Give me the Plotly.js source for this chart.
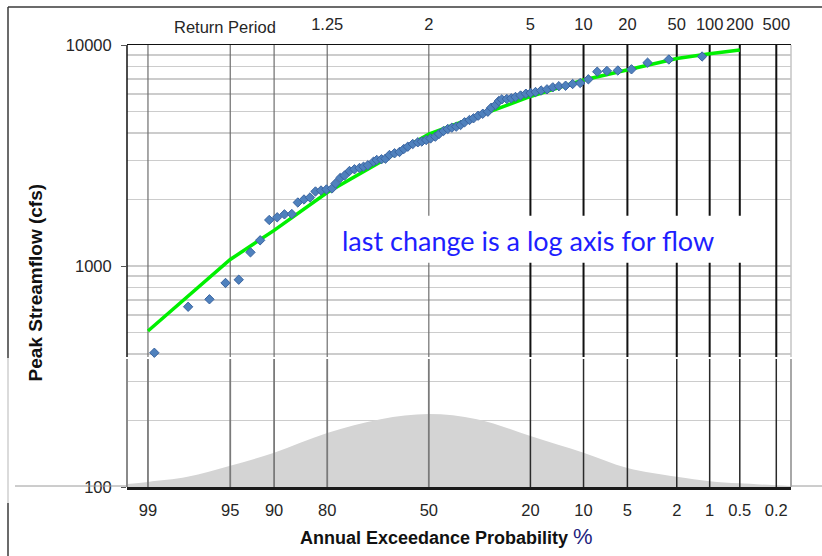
<!DOCTYPE html>
<html>
<head>
<meta charset="utf-8">
<script src="https://cdn.plot.ly/plotly-3.0.1.min.js"></script>
<style>
  html, body { margin: 0; padding: 0; background: #ffffff; }
  #chart { width: 822px; height: 556px; }
</style>
</head>
<body>
<div id="chart"></div>
<script>
// Ranked annual peaks: chance of exceedance (%) and peak streamflow (cfs)
const peakExceedPct = [98.85, 97.69, 96.54, 95.39, 94.23, 93.02, 91.88, 90.69, 89.54, 88.41,
  87.18, 86.11, 84.94, 83.75, 82.61, 81.41, 80.18, 78.87, 78.02, 76.85,
  75.74, 74.44, 73.10, 71.70, 70.57, 69.33, 67.65, 66.68, 65.25, 64.02,
  62.78, 61.18, 59.60, 58.20, 56.91, 55.29, 53.63, 52.31, 50.88, 49.44,
  47.85, 46.63, 45.15, 43.76, 42.43, 41.02, 39.63, 38.36, 36.81, 35.57,
  34.13, 32.74, 31.24, 30.26, 29.02, 28.10, 27.26, 25.91, 24.73, 23.64,
  22.36, 21.07, 19.97, 18.84, 17.62, 16.38, 15.22, 14.07, 12.86, 11.68,
  10.49, 9.32, 8.15, 7.01, 5.87, 4.66, 3.50, 2.34, 1.18];
const peakFlowCfs = [405, 654, 707, 838, 867, 1153, 1307, 1615, 1661, 1713,
  1719, 1938, 2000, 2042, 2174, 2196, 2220, 2243, 2362, 2502,
  2567, 2691, 2739, 2776, 2814, 2856, 2965, 3018, 3040, 3059,
  3179, 3236, 3280, 3384, 3466, 3565, 3629, 3659, 3717, 3776,
  3847, 3957, 4083, 4169, 4226, 4270, 4345, 4469, 4577, 4659,
  4787, 4887, 4991, 5203, 5351, 5579, 5679, 5698, 5739, 5817,
  5909, 6020, 6064, 6127, 6224, 6302, 6435, 6510, 6543, 6660,
  6731, 6995, 7573, 7629, 7668, 7762, 8316, 8598, 8871];

// Fitted frequency curve
const fitExceedPct = [99, 95, 90, 80, 50, 20, 10, 5, 2, 1, 0.5];
const fitFlowCfs   = [508, 1070, 1450, 2150, 3950, 5850, 6950, 7730, 8680, 9120, 9490];

// Probability axis (bottom) and return period axis (top)
const probTicks = [99, 95, 90, 80, 50, 20, 10, 5, 2, 1, 0.5, 0.2];
const minorProbTicks = [99, 95, 90, 80, 50];
const returnPeriods = [1.25, 2, 5, 10, 20, 50, 100, 200, 500];

// Bell-shaped density sketch along the probability axis (relative height)
const bellExceedPct = [99.38, 99, 97.72, 95, 90, 80, 65.5, 50, 34.5, 20, 10, 5, 2, 1, 0.5, 0.135];
const bellHeight    = [0.04, 0.07, 0.14, 0.29, 0.47, 0.74, 0.93, 1.0, 0.93, 0.70, 0.47, 0.26, 0.14, 0.08, 0.05, 0.015];

// Inverse standard normal CDF (Acklam)
function normInv(p) {
  const a = [-3.969683028665376e+01, 2.209460984245205e+02, -2.759285104469687e+02, 1.383577518672690e+02, -3.066479806614716e+01, 2.506628277459239e+00];
  const b = [-5.447609879822406e+01, 1.615858368580409e+02, -1.556989798598866e+02, 6.680131188771972e+01, -1.328068155288572e+01];
  const c = [-7.784894002430293e-03, -3.223964580411365e-01, -2.400758277161838e+00, -2.549671010229528e+00, 4.374664141464968e+00, 2.938163982698783e+00];
  const d = [7.784695709041462e-03, 3.224671290700398e-01, 2.445134137142996e+00, 3.754408661907416e+00];
  const pl = 0.02425, ph = 1 - pl;
  let q, r;
  if (p < pl) {
    q = Math.sqrt(-2 * Math.log(p));
    return (((((c[0]*q+c[1])*q+c[2])*q+c[3])*q+c[4])*q+c[5]) / ((((d[0]*q+d[1])*q+d[2])*q+d[3])*q+1);
  }
  if (p > ph) {
    q = Math.sqrt(-2 * Math.log(1 - p));
    return -(((((c[0]*q+c[1])*q+c[2])*q+c[3])*q+c[4])*q+c[5]) / ((((d[0]*q+d[1])*q+d[2])*q+d[3])*q+1);
  }
  q = p - 0.5; r = q * q;
  return (((((a[0]*r+a[1])*r+a[2])*r+a[3])*r+a[4])*r+a[5])*q / (((((b[0]*r+b[1])*r+b[2])*r+b[3])*r+b[4])*r+1);
}
// exceedance % -> standard normal variate (rarer events to the right)
const zOf = pct => normInv(1 - pct / 100);

const FONT = 'Liberation Sans, Arial, sans-serif';
const BOTTOM = 100, TOP = 10000;
const SPLIT_LOW = 379.6, SPLIT_HIGH = 387.5;   // break between lower panel and upper grid
const BELL_DECADES = 0.33;

function vLines(pcts, y0, y1) {
  const x = [], y = [];
  pcts.forEach(p => { const z = zOf(p); x.push(z, z, null); y.push(y0, y1, null); });
  return { x, y };
}
const thinUp = vLines(minorProbTicks, SPLIT_HIGH, TOP);
const thickUp = vLines(probTicks.filter(p => p < 50), SPLIT_HIGH, TOP);
const thinLow = vLines(minorProbTicks, BOTTOM, SPLIT_LOW);
const thickLow = vLines(probTicks.filter(p => p < 50), BOTTOM, SPLIT_LOW);

const bellX = bellExceedPct.map(zOf);
const bellY = bellHeight.map(h => BOTTOM * Math.pow(10, BELL_DECADES * h));

const line = (xy, color, width) => ({
  type: 'scatter', mode: 'lines', x: xy.x, y: xy.y, hoverinfo: 'skip', showlegend: false,
  line: { color, width }
});

const traces = [
  { type: 'scatter', mode: 'lines', x: [bellX[0], bellX[bellX.length - 1]], y: [BOTTOM, BOTTOM],
    line: { width: 0, color: 'rgba(0,0,0,0)' }, hoverinfo: 'skip', showlegend: false },
  { type: 'scatter', mode: 'lines', x: bellX, y: bellY, fill: 'tonexty', fillcolor: '#d4d4d4',
    line: { width: 0, shape: 'spline', color: '#d4d4d4' }, hoverinfo: 'skip', showlegend: false },
  line(thinLow, '#7a7a7a', 1.8),
  line(thickLow, '#2a2a2a', 1.5),
  line(thinUp, '#6e6e6e', 1.2),
  line(thickUp, '#111111', 2),
  { type: 'scatter', mode: 'lines', name: 'Fitted curve',
    x: fitExceedPct.map(zOf), y: fitFlowCfs,
    line: { color: '#00f000', width: 3.5 }, showlegend: false },
  { type: 'scatter', mode: 'markers', name: 'Annual peaks',
    x: peakExceedPct.map(zOf), y: peakFlowCfs,
    marker: { symbol: 'diamond', size: 7.2, color: '#4f81bd', line: { color: '#3a64a0', width: 1 } },
    showlegend: false },
  { type: 'scatter', mode: 'markers', x: [], y: [], xaxis: 'x2', showlegend: false, hoverinfo: 'skip' }
];

const minorFlow = [];
[100, 1000].forEach(dec => { for (let k = 2; k <= 9; k++) minorFlow.push(k * dec); });

// paper helpers for a 664 x 442 plot area at (127, 45)
const px = X => (X - 127) / 664;
const py = Y => (487 - Y) / 442;

const shapes = [
  // outer frame
  { type: 'line', xref: 'paper', yref: 'paper', x0: px(8), x1: px(822), y0: py(7), y1: py(7), line: { color: '#3a3a3a', width: 1.5 } },
  { type: 'line', xref: 'paper', yref: 'paper', x0: px(8), x1: px(8), y0: py(7), y1: py(358), line: { color: '#3a3a3a', width: 1.5 } },
  { type: 'line', xref: 'paper', yref: 'paper', x0: px(8), x1: px(8), y0: py(358), y1: py(503), line: { color: '#cfcfcf', width: 1.5 } },
  { type: 'line', xref: 'paper', yref: 'paper', x0: px(8), x1: px(8), y0: py(503), y1: py(556), line: { color: '#3a3a3a', width: 1.5 } },
  // baseline running past the plot
  { type: 'line', xref: 'paper', yref: 'paper', x0: px(15), x1: px(127), y0: py(486), y1: py(486), line: { color: '#9a9a9a', width: 1 } },
  { type: 'line', xref: 'paper', yref: 'paper', x0: px(791), x1: px(822), y0: py(486), y1: py(486), line: { color: '#9a9a9a', width: 1 } },
  // left axis line and right edge
  { type: 'line', xref: 'paper', yref: 'paper', x0: 0, x1: 0, y0: py(357), y1: 1, line: { color: '#111111', width: 1.5 } },
  { type: 'line', xref: 'paper', yref: 'paper', x0: 0, x1: 0, y0: 0, y1: py(359), line: { color: '#8a8a8a', width: 2 } },
  { type: 'line', xref: 'paper', yref: 'paper', x0: 1, x1: 1, y0: py(357), y1: 1, line: { color: '#c4c4c4', width: 1.5 } },
  { type: 'line', xref: 'paper', yref: 'paper', x0: 1, x1: 1, y0: 0, y1: py(359), line: { color: '#a8a8a8', width: 2 } },
  // note background
  { type: 'rect', xref: 'paper', yref: 'paper', x0: px(333), x1: px(770), y0: py(262.7), y1: py(215.7),
    fillcolor: '#ffffff', line: { width: 0 }, layer: 'above' }
];

const tickFont = { family: FONT, size: 16.5, color: '#262626' };

const layout = {
  width: 822, height: 556, autosize: false,
  margin: { l: 127, r: 31, t: 45, b: 69, pad: 0 },
  paper_bgcolor: '#ffffff', plot_bgcolor: '#ffffff',
  showlegend: false,
  xaxis: {
    range: [-2.5, 3.0], tickmode: 'array',
    tickvals: probTicks.map(zOf), ticktext: probTicks.map(String),
    showgrid: false, zeroline: false, ticks: '',
    showline: true, linecolor: '#1a1a1a', linewidth: 2.5,
    tickfont: tickFont, ticklabelstandoff: 7
  },
  xaxis2: {
    overlaying: 'x', side: 'top', anchor: 'y', range: [-2.5, 3.0], tickmode: 'array',
    tickvals: returnPeriods.map(T => zOf(100 / T)), ticktext: returnPeriods.map(String),
    showgrid: false, zeroline: false, ticks: '',
    showline: true, linecolor: '#111111', linewidth: 1.5,
    tickfont: tickFont, ticklabelstandoff: 7
  },
  yaxis: {
    type: 'log', range: [2, 4], tickmode: 'array',
    tickvals: [100, 1000, 10000], ticktext: ['100', '1000', '10000'],
    ticks: 'outside', ticklen: 5, tickcolor: '#555555', tickwidth: 1,
    showgrid: true, gridcolor: '#cccccc', gridwidth: 1.5,
    minor: { tickmode: 'array', tickvals: minorFlow, showgrid: true, gridcolor: '#cccccc', gridwidth: 1.5, ticks: '' },
    zeroline: false, showline: false,
    tickfont: tickFont, ticklabelstandoff: 6
  },
  shapes,
  annotations: [
    { xref: 'paper', yref: 'paper', x: px(225.3), y: py(27), xanchor: 'center', yanchor: 'middle',
      text: 'Return Period', showarrow: false, font: tickFont },
    { xref: 'paper', yref: 'paper', x: px(446), y: py(536), xanchor: 'center', yanchor: 'middle',
      text: '<b>Annual Exceedance Probability</b> <span style="font-size:22px;color:#1f1f80">%</span>',
      showarrow: false, font: { family: FONT, size: 18, color: '#111111' } },
    { xref: 'paper', yref: 'paper', x: px(35), y: py(283.4), xanchor: 'center', yanchor: 'middle',
      textangle: -90, text: '<b>Peak Streamflow (cfs)</b>', showarrow: false,
      font: { family: FONT, size: 19, color: '#111111' } },
    { xref: 'paper', yref: 'paper', x: px(340), y: py(240), xanchor: 'left', yanchor: 'middle',
      text: 'last change is a log axis for flow', showarrow: false,
      font: { family: 'Lato, sans-serif', size: 27, color: '#1e1eff' } }
  ]
};

Plotly.newPlot('chart', traces, layout, { displayModeBar: false, staticPlot: true });
</script>
</body>
</html>
